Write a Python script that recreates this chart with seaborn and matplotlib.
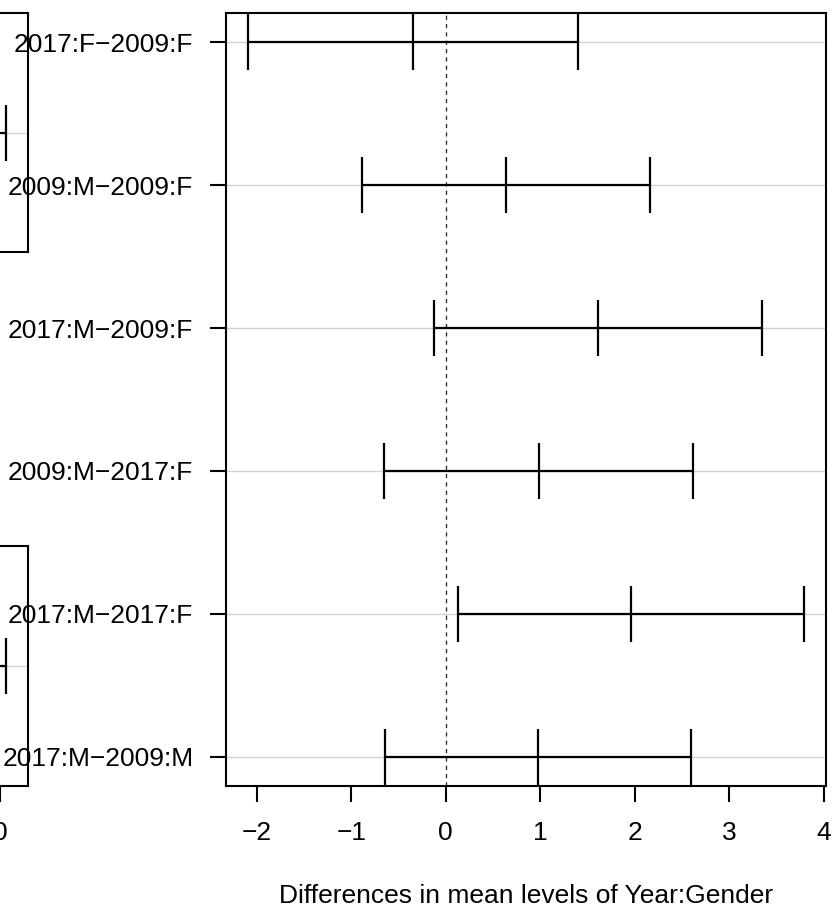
import matplotlib
matplotlib.use('Agg')
import matplotlib.pyplot as plt
import numpy as np
import pandas as pd
import seaborn as sns

# Tukey HSD intervals
comparisons = ['2017:F−2009:F', '2009:M−2009:F', '2017:M−2009:F',
               '2009:M−2017:F', '2017:M−2017:F', '2017:M−2009:M']
diff = [-0.346, 0.637, 1.612, 0.984, 1.960, 0.978]
lwr = [-2.092, -0.885, -0.120, -0.649, 0.128, -0.640]
upr = [1.400, 2.158, 3.344, 2.617, 3.791, 2.596]
xticks = [-2, -1, 0, 1, 2, 3, 4]

# leftovers of the previous panel still showing at the left edge
prev_upr = [0.06, 0.06]

sns.set_theme(style='white')
plt.rcParams['font.family'] = ['Liberation Sans', 'DejaVu Sans']
plt.rcParams['font.size'] = 19

df = pd.DataFrame({'comparison': comparisons, 'diff': diff, 'lwr': lwr, 'upr': upr})
df['pos'] = np.arange(len(df), 0, -1)
pts = df.melt(id_vars=['comparison', 'pos'], value_vars=['lwr', 'diff', 'upr'], value_name='x')

W, H = 835, 915
fig = plt.figure(figsize=(W / 100, H / 100), dpi=100)


def px_axes(x0, y0, x1, y1):
    return fig.add_axes([x0 / W, 1 - y1 / H, (x1 - x0) / W, (y1 - y0) / H])


def style_box(a):
    for s in a.spines.values():
        s.set_visible(True)
        s.set_color('black')
        s.set_linewidth(1.5)


# main panel
ax = px_axes(226, 13, 826, 786)
for y in df['pos']:
    ax.axhline(y, color='#d3d3d3', lw=1, zorder=0)
ax.axvline(0, color='#333333', lw=1, ls=(0, (3, 3)), zorder=1)
ax.hlines(df['pos'], df['lwr'], df['upr'], color='black', lw=1.6, zorder=2)
sns.scatterplot(data=pts, x='x', y='pos', marker='|', s=1600, color='black',
                linewidth=1.6, legend=False, ax=ax, zorder=3)
ax.set_xlim(-2.327, 4.026)
ax.set_ylim(0.795, 6.205)
ax.set_xticks(xticks)
ax.set_yticks(df['pos'])
ax.set_yticklabels(df['comparison'])
ax.set_ylabel('')
ax.set_xlabel('Differences in mean levels of Year:Gender', fontsize=19, color='black')
ax.xaxis.label.set_va('baseline')
ax.xaxis.set_label_coords(0.5, -0.151)
ax.tick_params(bottom=True, left=True, direction='out', length=11.5, width=1.5,
               colors='black', labelsize=19)
ax.tick_params(axis='x', pad=14)
ax.tick_params(axis='y', pad=12)
style_box(ax)

# two boxes of the panel behind, only their right edge is on the canvas
for (y0, y1), u in zip([(13, 252), (546, 786)], prev_upr):
    a = px_axes(-200, y0, 28, y1)
    a.patch.set_visible(False)
    a.axhline(1, color='#d3d3d3', lw=1, zorder=0)
    a.hlines([1], [-3], [u], color='black', lw=1.6)
    sns.scatterplot(x=[u], y=[1], marker='|', s=1600, color='black',
                    linewidth=1.6, legend=False, ax=a)
    a.set_xlim(-2.11, 0.295)
    a.set_ylim(0.5, 1.5)
    a.set_yticks([])
    a.set_xticks([])
    a.set_xlabel('')
    style_box(a)
    if y1 == 786:
        a.set_xticks([0])
        a.set_xticklabels(['0'])
        a.tick_params(bottom=True, direction='out', length=11.5, width=1.5,
                      colors='black', labelsize=19, pad=14)

fig.savefig('out.png', dpi=100)
